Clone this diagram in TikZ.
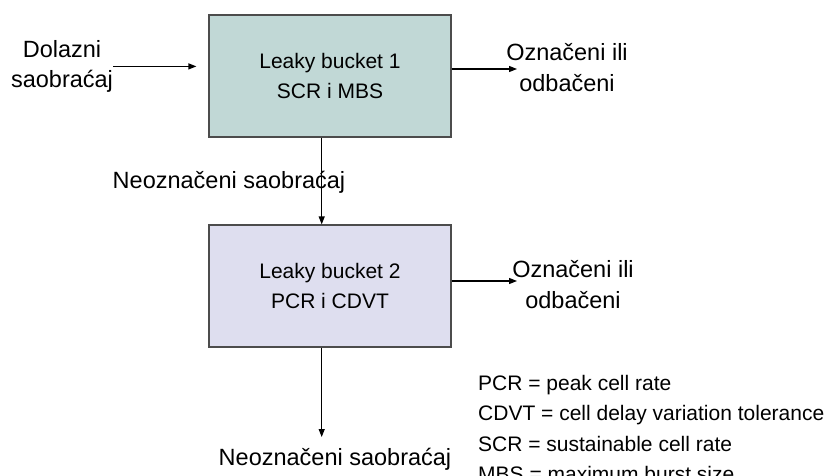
\documentclass[tikz,border=0pt]{standalone}
\usepackage{fontspec}
\setmainfont{Liberation Sans}
\usetikzlibrary{arrows.meta}
\definecolor{bucketone}{RGB}{193,216,214}
\definecolor{buckettwo}{RGB}{222,222,239}
\begin{document}
\begin{tikzpicture}[x=1pt, y=-1pt,
    bucketstyle/.style={draw=black!70, line width=1.2pt, minimum width=242pt, minimum height=122pt, align=center, font=\fontsize{21}{30.5}\selectfont},
    flowstyle/.style={draw=black, line width=1.2pt, ->, >={Triangle[length=8pt,width=6pt]}},
    labelstyle/.style={inner sep=0pt, align=center, font=\fontsize{23.5}{30.5}\selectfont},
    legendstyle/.style={inner sep=0pt, align=left, font=\fontsize{21}{30.5}\selectfont}]
        \useasboundingbox (0,0) rectangle (831,475);
        \node[bucketstyle, fill=bucketone](box1) at (330,76) {Leaky bucket 1\\SCR i MBS};
        \node[bucketstyle, fill=buckettwo](box2) at (330,286) {Leaky bucket 2\\PCR i CDVT};
        \node[labelstyle, anchor=north](in) at (62,40) {Dolazni\\saobraćaj};
        \node[labelstyle, anchor=north](out1) at (567,43.5) {Označeni ili\\odbačeni};
        \node[labelstyle, anchor=north](out2) at (573,260.5) {Označeni ili\\odbačeni};
        \node[labelstyle, anchor=base](mid) at (229,188) {Neoznačeni saobraćaj};
        \node[labelstyle, anchor=base](bottom) at (335,465) {Neoznačeni saobraćaj};
        \node[legendstyle, anchor=north west](legend) at (478,375) {PCR = peak cell rate\\CDVT = cell delay variation tolerance\\SCR = sustainable cell rate\\MBS = maximum burst size};
        \coordinate (out1tip) at (517,69);
        \coordinate (out2tip) at (517,281);
        \coordinate (bottomtip) at (321.7,437);
        \draw[flowstyle](in.east) -- (in.east -| box1.west) [shorten >=12pt];
        \draw[flowstyle]([yshift=7pt]box1.east) -- (out1tip);
        \draw[flowstyle]([xshift=-8.3pt]box1.south) -- ([xshift=-8.3pt]box1.south |- box2.north);
        \draw[flowstyle]([yshift=5pt]box2.east) -- (out2tip);
        \draw[flowstyle]([xshift=-8.3pt]box2.south) -- (bottomtip);
    \end{tikzpicture}
\end{document}
